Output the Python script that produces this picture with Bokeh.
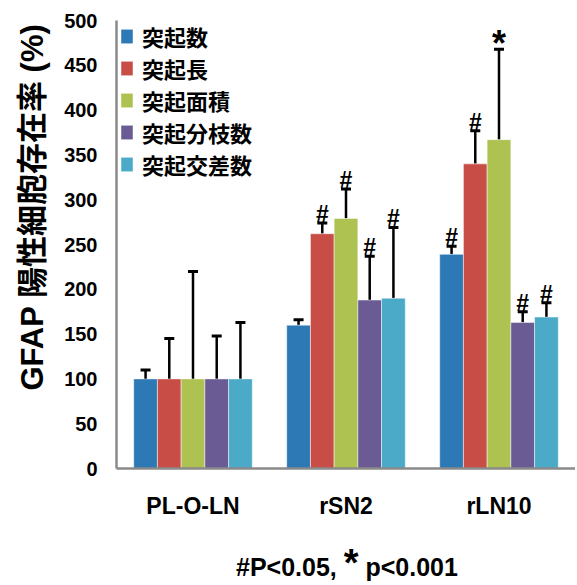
from bokeh.plotting import figure
from bokeh.layouts import column
from bokeh.models import (FactorRange, Range1d, ColumnDataSource, Legend, LegendItem,
                          Whisker, TeeHead, FixedTicker, Title, Div)
from bokeh.transform import dodge
from bokeh.core.properties import value
from bokeh.embed import file_html
from bokeh.resources import INLINE

# ---- data ----
groups = ["PL-O-LN", "rSN2", "rLN10"]
series = ["突起数", "突起長", "突起面積", "突起分枝数", "突起交差数"]
colors = ["#2D79B5", "#C84D46", "#ADC250", "#6B5B94", "#4BAAC7"]

mean_count = [100, 160, 239]
mean_length = [100, 262, 340]
mean_area = [100, 279, 367]
mean_branch = [100, 188, 163]
mean_cross = [100, 190, 169]

err_count = [10, 6, 9]
err_length = [45, 12, 37]
err_area = [120, 33, 101]
err_branch = [48, 49, 12]
err_cross = [63, 79, 16]

mark_count = ["", "", "#"]
mark_length = ["", "#", "#"]
mark_area = ["", "#", "*"]
mark_branch = ["", "#", "#"]
mark_cross = ["", "#", "#"]

y_ticks = [0, 50, 100, 150, 200, 250, 300, 350, 400, 450, 500]
y_title = "GFAP 陽性細胞存在率 (%)"
note_hash = "#P&lt;0.05,"
note_star = "*"
note_p = "p&lt;0.001"

means = [mean_count, mean_length, mean_area, mean_branch, mean_cross]
errs = [err_count, err_length, err_area, err_branch, err_cross]
marks = [mark_count, mark_length, mark_area, mark_branch, mark_cross]

FONT = "Liberation Sans, Noto Sans CJK JP"

p = figure(x_range=FactorRange(*groups, range_padding=0), y_range=Range1d(0, 500),
           width=575, height=522, output_backend="svg", toolbar_location=None,
           min_border_left=114, min_border_right=0, min_border_top=20,
           min_border_bottom=54)
p.outline_line_color = None
p.xgrid.grid_line_color = None
p.ygrid.grid_line_color = None

bar_w = 0.155
items = []
for i, (name, col, m, e, mk) in enumerate(zip(series, colors, means, errs, marks)):
    off = (i - 2) * bar_w
    upper = [a + b for a, b in zip(m, e)]
    src = ColumnDataSource(dict(g=groups, mean=m, upper=upper, mark=mk))
    r = p.vbar(x=dodge("g", off, range=p.x_range), top="mean", width=bar_w, source=src,
               fill_color=col, line_color="white", line_width=0.8, line_alpha=0.6)
    items.append(LegendItem(label=name, renderers=[r]))
    w = Whisker(base=dodge("g", off, range=p.x_range), upper="upper", lower="mean",
                source=src, dimension="height", line_color="black", line_width=2.5,
                upper_head=TeeHead(size=10, line_width=3, line_color="black"),
                lower_head=None)
    p.add_layout(w)
    hs = ColumnDataSource(dict(g=[g for g, t in zip(groups, mk) if t == "#"],
                               y=[u for u, t in zip(upper, mk) if t == "#"],
                               t=[t for t in mk if t == "#"]))
    p.text(x=dodge("g", off, range=p.x_range), y="y", text="t", source=hs,
           text_align="center", text_baseline="alphabetic", y_offset=-9,
           text_font=value(FONT), text_font_style="bold", text_font_size="23px",
           text_color="black")
    ss = ColumnDataSource(dict(g=[g for g, t in zip(groups, mk) if t == "*"],
                               y=[u for u, t in zip(upper, mk) if t == "*"],
                               t=[t for t in mk if t == "*"]))
    p.text(x=dodge("g", off, range=p.x_range), y="y", text="t", source=ss,
           text_align="center", text_baseline="alphabetic", y_offset=-6,
           text_font=value(FONT), text_font_style="bold", text_font_size="36px",
           text_color="black")

# axes
for ax in (p.xaxis[0], p.yaxis[0]):
    ax.axis_line_color = "#8a8a8a"
    ax.axis_line_width = 2.5
    ax.major_tick_line_color = None
    ax.minor_tick_line_color = None
    ax.major_tick_out = 0
    ax.major_tick_in = 0
    ax.major_label_text_font = FONT
    ax.major_label_text_font_style = "bold"
    ax.major_label_text_color = "black"
p.yaxis.ticker = FixedTicker(ticks=y_ticks)
p.yaxis.major_label_text_font_size = "20px"
p.yaxis.major_label_standoff = 19
p.xaxis.major_label_text_font_size = "23px"
p.xaxis.major_label_standoff = 24

# y title (vertical, left side)
p.add_layout(Title(text=y_title, align="left", offset=78, standoff=24,
                   text_font=FONT, text_font_style="bold", text_font_size="31px",
                   text_color="black"), "left")

# legend
legend = Legend(items=items, location=(3, 288), glyph_width=15, glyph_height=18,
                label_standoff=8, label_height=32, spacing=0, padding=0, margin=0,
                label_text_font=FONT, label_text_font_style="bold",
                label_text_font_size="22px", label_text_color="black",
                background_fill_alpha=0, border_line_alpha=0)
p.add_layout(legend)

# footnote
note_html = (
    '<div style="margin-left:231px;padding-top:28px;'
    'text-align:left;white-space:nowrap;font-family:\'Liberation Sans\',\'Noto Sans CJK JP\';'
    'font-weight:bold;font-size:25px;line-height:25px;color:black">'
    + note_hash + ' <span style="font-size:38px;line-height:0">'
    + note_star + '</span> ' + note_p + '</div>'
)
note = Div(text=note_html, width=575, height=60)

open("out.html", "w").write(file_html(column(p, note), INLINE))
